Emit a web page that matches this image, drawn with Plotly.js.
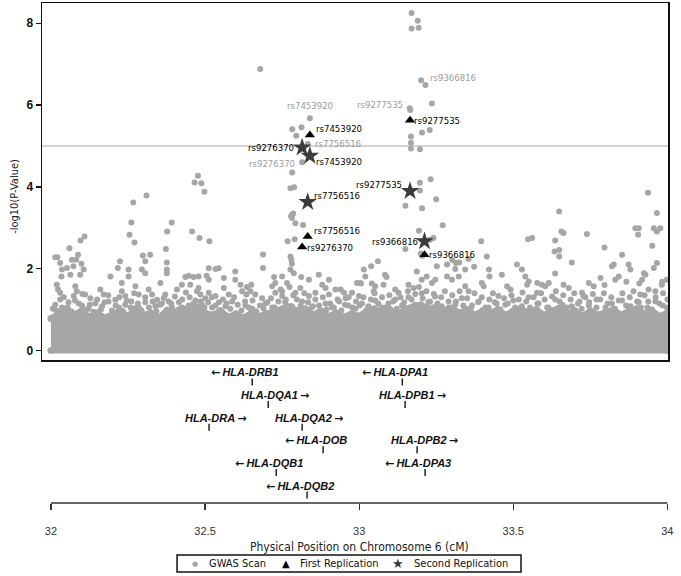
<!DOCTYPE html>
<html><head><meta charset="utf-8">
<script src="https://cdn.plot.ly/plotly-3.0.1.min.js"></script>
<style>html,body{margin:0;padding:0;background:#fff}</style>
</head><body><div id="chart" style="width:681px;height:576px"></div>
<script>
// ---------- DATA ----------
const scanPos = [
32.679,33.170,33.190,33.170,33.193,33.201,33.215,33.236,33.164,33.166,32.840,32.783,32.813,32.796,33.168,33.168,33.168,33.204,33.229,33.197,
32.833,32.815,32.783,32.777,32.789,33.197,33.232,33.197,33.250,33.150,33.204,33.271,33.194,33.150,33.200,33.205,33.241,33.230,33.396,33.414,
33.252,33.285,33.325,33.355,33.344,33.312,33.323,33.039,33.061,33.015,33.020,33.084,33.089,33.079,33.004,33.187,33.203,33.219,33.236,33.247,
33.285,33.301,33.421,33.423,33.463,33.512,33.528,33.539,33.550,33.545,33.548,33.561,33.649,33.656,33.663,33.636,33.634,33.649,33.649,33.636,
33.690,33.739,33.796,33.853,33.820,33.826,33.874,33.880,33.937,33.966,33.896,33.907,33.905,33.956,33.966,33.977,33.951,33.966,33.956,33.929,
33.918,33.982,33.998,33.593,33.604,33.615,33.663,33.680,33.745,33.761,33.831,33.842,33.723,33.728,33.480,33.491,33.398,33.404,33.577,33.452,
33.344,33.355,33.160,33.176,33.117,33.128,33.052,33.047,33.912,33.939,33.961,33.302,33.314,33.373,33.578,33.783,33.796,33.867,33.924,33.909,33.983,
32.477,32.466,32.488,32.498,32.310,32.267,32.261,32.255,32.271,32.392,32.377,32.458,32.482,32.514,32.109,32.096,32.060,32.088,32.082,32.021,
32.014,32.030,32.068,32.073,32.036,32.052,32.099,32.106,32.063,32.095,32.019,32.034,32.224,32.217,32.193,32.298,32.322,32.306,32.295,32.306,
32.373,32.376,32.376,32.376,32.230,32.252,32.252,32.355,32.409,32.436,32.447,32.463,32.479,32.512,32.534,32.544,32.505,32.512,32.561,32.598,
32.598,32.650,32.636,32.688,32.688,32.634,32.647,32.782,32.786,32.779,32.782,32.793,32.818,32.768,32.791,32.777,32.780,32.782,32.777,32.788,
32.812,32.837,32.869,32.880,32.750,32.728,32.745,32.766,32.718,32.902,32.891,32.940,32.951,32.993,32.724,33.006,33.041,
32.023,32.030,32.079,32.084,32.074,32.111,32.128,32.160,32.171,32.209,32.230,32.241,32.261,32.274,32.285,32.317,32.328,32.344,32.371,32.382,
32.425,32.452,32.479,32.485,32.501,32.512,32.534,32.561,32.577,32.615,32.620,32.663,32.685,32.728,32.750,32.793,32.809,32.837,32.858,32.902,
32.923,32.956,32.977,32.999,
32.014,32.036,32.057,32.101,32.122,32.144,32.166,32.187,32.220,32.241,32.285,32.306,32.339,32.360,32.393,32.415,32.447,32.469,32.490,32.523,
32.545,32.566,32.588,32.631,32.653,32.696,32.718,32.760,32.782,32.815,32.850,32.891,32.912,32.935,32.965,32.988,
33.009,33.030,33.052,33.074,33.095,33.117,33.139,33.160,33.182,33.203,33.225,33.246,33.268,33.290,33.312,33.333,33.366,33.388,33.420,33.440,
33.474,33.500,33.528,33.550,33.582,33.610,33.636,33.660,33.690,33.715,33.745,33.770,33.799,33.820,33.853,33.880,33.907,33.935,33.961,33.985,34.000,
32.006,32.018,32.030,32.042,32.054,32.066,32.078,32.090,32.102,32.114,32.126,32.138,32.150,32.162,32.174,32.186,32.198,32.210,32.222,32.234,
32.246,32.258,32.270,32.282,32.294,32.306,32.318,32.330,32.342,32.354,32.366,32.378,32.390,32.402,32.414,32.426,32.438,32.450,32.462,32.474,
32.486,32.498,32.510,32.522,32.534,32.546,32.558,32.570,32.582,32.594,32.606,32.618,32.630,32.642,32.654,32.666,32.678,32.690,32.702,32.714,
32.726,32.738,32.750,32.762,32.774,32.786,32.798,32.810,32.822,32.834,32.846,32.858,32.870,32.882,32.894,32.906,32.918,32.930,32.942,32.954,
32.966,32.978,32.990,33.002,33.014,33.026,33.038,33.050,33.062,33.074,33.086,33.098,33.110,33.122,33.134,33.146,33.158,33.170,33.182,33.194,
33.206,33.218,33.230,33.242,33.254,33.266,33.278,33.290,33.302,33.314,33.326,33.338,33.350,33.362,33.374,33.386,33.398,33.410,33.422,33.434,
33.446,33.458,33.470,33.482,33.494,33.506,33.518,33.530,33.542,33.554,33.566,33.578,33.590,33.602,33.614,33.626,33.638,33.650,33.662,33.674,
33.686,33.698,33.710,33.722,33.734,33.746,33.758,33.770,33.782,33.794,33.806,33.818,33.830,33.842,33.854,33.866,33.878,33.890,33.902,33.914,
33.926,33.938,33.950,33.962,33.974,33.986,33.998
];
const scanLogP = [
6.88,8.25,8.06,7.87,7.89,6.61,6.49,6.04,5.92,5.88,5.68,5.41,5.46,5.25,5.23,5.08,4.94,5.33,5.39,4.92,
5.05,4.60,4.35,3.97,3.99,4.10,4.19,3.91,3.70,3.54,3.48,3.06,2.93,2.48,2.37,2.31,2.75,2.71,2.67,2.30,
2.06,2.10,2.15,2.24,1.98,1.99,1.81,2.06,2.18,1.98,1.81,1.85,1.80,1.61,1.65,1.93,1.73,1.81,1.65,1.73,
1.81,1.73,1.98,1.81,1.85,2.10,1.98,1.81,1.69,1.61,2.72,2.75,3.40,2.91,2.87,2.69,2.42,2.46,2.30,1.88,
2.15,2.85,2.52,2.34,2.06,2.10,2.10,1.98,3.86,3.36,2.99,2.99,2.83,2.99,2.91,2.99,2.56,2.14,2.02,1.85,
1.73,1.61,1.73,1.61,1.57,1.65,1.61,1.53,1.65,1.57,1.73,1.81,1.41,1.33,1.57,1.49,1.65,1.57,1.41,1.33,
1.57,1.45,1.61,1.53,1.49,1.41,1.57,1.45,1.37,1.49,1.45,2.21,2.14,2.05,1.65,1.77,1.60,1.68,1.89,1.64,1.68,
4.27,4.11,4.09,3.88,3.79,3.62,3.13,2.83,2.64,3.13,2.91,2.91,2.75,2.67,2.79,2.69,2.50,2.34,2.22,2.28,
2.28,2.14,2.22,2.06,1.98,2.02,2.12,1.98,1.85,1.85,1.61,1.81,2.18,2.02,1.81,2.32,2.34,2.18,1.98,1.89,
2.48,2.15,1.98,1.89,1.65,1.98,1.81,1.65,1.49,1.80,1.83,1.80,1.81,2.01,1.99,2.01,1.83,1.73,1.77,1.93,
1.73,1.61,1.55,2.35,2.02,1.37,1.45,3.32,3.35,3.28,3.24,3.11,3.07,2.67,2.72,2.30,2.22,2.12,1.98,1.89,
1.80,1.73,1.85,1.61,1.81,1.65,1.49,1.65,1.57,1.73,1.53,1.49,1.41,1.65,1.80,1.64,1.64,
1.49,1.41,1.57,1.45,1.33,1.37,1.28,1.49,1.37,1.24,1.45,1.33,1.20,1.57,1.37,1.49,1.37,1.24,1.37,1.20,
1.61,1.61,1.53,1.37,1.28,1.41,1.33,1.53,1.37,1.61,1.45,1.37,1.28,1.41,1.33,1.41,1.53,1.33,1.41,1.37,
1.49,1.28,1.41,1.33,
1.12,1.05,1.18,1.10,1.02,1.15,1.08,1.20,1.05,1.12,1.05,1.18,1.08,1.15,1.05,1.18,1.10,1.22,1.12,1.05,
1.18,1.08,1.20,1.10,1.02,1.15,1.05,1.18,1.08,1.20,1.08,1.15,1.05,1.20,1.10,1.02,
1.15,1.08,1.22,1.05,1.15,1.25,1.10,1.30,1.12,1.40,1.18,1.32,1.08,1.20,1.12,1.28,1.10,1.20,1.05,1.18,
1.12,1.22,1.08,1.30,1.15,1.05,1.25,1.12,1.08,1.20,1.10,1.25,1.05,1.15,1.22,1.08,1.18,1.05,1.20,1.10,1.25,
1.02,0.98,1.25,1.30,1.05,0.96,1.22,1.15,1.38,1.00,1.12,0.95,1.25,1.00,1.18,1.35,0.98,1.10,1.30,0.96,
1.22,1.05,1.40,1.15,0.98,1.30,1.05,1.20,0.96,1.12,1.28,1.00,1.15,1.32,1.00,1.25,1.42,1.30,1.15,1.45,
1.20,1.05,1.18,1.30,1.10,0.98,1.25,1.15,1.02,1.30,1.12,0.98,1.20,1.05,1.22,0.96,1.10,1.02,1.18,1.28,
1.05,1.20,1.45,1.25,1.55,1.35,1.25,1.10,1.40,1.18,1.05,1.25,1.10,1.30,1.00,1.15,1.05,1.25,0.98,1.12,
1.30,1.05,1.20,1.10,1.30,1.00,1.25,1.40,1.15,1.30,1.05,1.35,1.20,1.02,1.30,1.18,1.45,1.25,1.38,1.55,
1.28,1.45,1.20,1.38,1.15,1.30,1.45,1.05,1.35,1.20,1.45,1.10,1.28,1.02,1.40,1.18,1.30,1.05,1.25,1.40,
1.15,1.00,1.28,1.15,1.35,1.05,1.25,1.42,1.20,1.05,1.30,1.15,1.40,1.25,1.05,1.32,1.45,1.20,1.35,1.05,
1.25,1.40,1.15,1.02,1.30,1.18,1.38,1.05,1.25,1.40,1.15,1.30,1.02,1.22,1.40,1.10,1.30,1.45,1.20,1.05,
1.35,1.20,1.00,1.30,1.15,1.40,1.05
];
// ragged upper edge of the solid mass of low -log10(P) points
const bandPos = [
32.000,32.025,32.050,32.075,32.100,32.125,32.150,32.175,32.200,32.225,32.250,32.275,32.300,32.325,32.350,32.375,32.400,32.425,32.450,32.475,
32.500,32.525,32.550,32.575,32.600,32.625,32.650,32.675,32.700,32.725,32.750,32.775,32.800,32.825,32.850,32.875,32.900,32.925,32.950,32.975,
33.000,33.025,33.050,33.075,33.100,33.125,33.150,33.175,33.200,33.225,33.250,33.275,33.300,33.325,33.350,33.375,33.400,33.425,33.450,33.475,
33.500,33.525,33.550,33.575,33.600,33.625,33.650,33.675,33.700,33.725,33.750,33.775,33.800,33.825,33.850,33.875,33.900,33.925,33.950,33.975,34.000];
const bandTopLogP = [
0.78,0.92,1.02,0.88,0.97,0.82,0.92,0.80,0.87,0.97,0.84,1.02,0.87,0.92,0.80,0.97,0.92,1.04,0.97,1.07,
0.92,0.87,0.97,0.82,0.90,0.80,0.92,0.84,0.90,0.97,1.02,1.07,0.97,1.02,0.87,0.97,0.84,0.92,0.82,0.90,
0.84,0.97,1.02,0.92,1.00,0.87,1.02,1.07,1.12,1.02,1.07,0.97,1.04,0.92,1.00,0.87,0.97,0.92,1.00,0.87,
0.97,1.02,0.92,1.00,0.87,0.97,1.04,0.90,0.97,0.84,0.97,0.87,0.92,1.00,0.87,0.97,1.02,0.90,0.97,0.84,0.92];

const snpNames = ['rs7453920','rs7756516','rs9276370','rs9277535','rs9366816'];
const snpPos = [32.840, 32.833, 32.815, 33.165, 33.212];
const gwasLogP = [5.68, 5.05, 4.60, 5.92, 6.55];
const firstRepLogP = [5.27, 2.79, 2.53, 5.63, 2.34];
const secondRepLogP = [4.76, 3.63, 4.96, 3.90, 2.67];

const geneNames = ['HLA-DRB1','HLA-DPA1','HLA-DQA1','HLA-DPB1','HLA-DRA','HLA-DQA2','HLA-DOB','HLA-DPB2','HLA-DQB1','HLA-DPA3','HLA-DQB2'];
const genePos = [32.653, 33.140, 32.705, 33.149, 32.513, 32.815, 32.883, 33.188, 32.731, 33.214, 32.831];
const geneStrand = [-1, -1, 1, 1, 1, 1, -1, 1, -1, -1, -1];
const geneRow = [1, 1, 2, 2, 3, 3, 4, 4, 5, 5, 6];

const xTickVals = [32, 32.5, 33, 33.5, 34];
const xTickText = ['32', '32.5', '33', '33.5', '34'];
const yTickVals = [0, 2, 4, 6, 8];
const yTickText = ['0', '2', '4', '6', '8'];
const threshold = 5;
const seriesNames = ['GWAS Scan', 'First Replication', 'Second Replication'];

// ---------- STYLE / PLACEMENT ----------
const cond = "'DejaVu Sans Condensed', 'Liberation Sans Narrow', sans-serif";
const sans = "'Liberation Sans', Arial, sans-serif";
const gray = '#a6a6a6';
const starColor = '#3c3c3c';

const firstLbl = {rs7453920:['left',4,6], rs7756516:['left',4,6], rs9276370:['left',3,0], rs9277535:['left',2,0], rs9366816:['left',2,0]};
const secondLbl = {rs7453920:['left',4,-6], rs7756516:['left',4,7], rs9276370:['right',-6,0], rs9277535:['right',-6,6], rs9366816:['right',-5,0]};
const gwasLbl = {rs7453920:['center',0,13], rs7756516:['left',5,0], rs9276370:['right',-5,-1], rs9277535:['right',-5,4], rs9366816:['left',3,5]};

const traces = [];
traces.push({
  x: bandPos.concat([bandPos[bandPos.length-1], bandPos[0]]),
  y: bandTopLogP.concat([0, 0]),
  xaxis: 'x', yaxis: 'y', type: 'scatter', mode: 'lines+markers',
  fill: 'toself', fillcolor: gray,
  line: {color: gray, width: 6}, marker: {color: gray, size: 7},
  showlegend: false, hoverinfo: 'skip'
});
traces.push({
  x: scanPos, y: scanLogP, xaxis: 'x', yaxis: 'y', type: 'scatter', mode: 'markers',
  name: seriesNames[0], showlegend: false,
  marker: {color: gray, size: 6, symbol: 'circle'}
});
traces.push({
  x: snpPos, y: secondRepLogP, xaxis: 'x', yaxis: 'y', type: 'scatter', mode: 'markers',
  name: seriesNames[2], showlegend: false,
  marker: {color: starColor, size: 14, symbol: 'star', line: {width: 0}}
});
traces.push({
  x: snpPos, y: firstRepLogP, xaxis: 'x', yaxis: 'y', type: 'scatter', mode: 'markers',
  name: seriesNames[1], showlegend: false,
  marker: {color: '#000', size: 9, symbol: 'triangle-up', line: {width: 0}}
});
traces.push({
  x: genePos, y: geneRow, xaxis: 'x2', yaxis: 'y2', type: 'scatter', mode: 'markers',
  showlegend: false, hoverinfo: 'skip',
  marker: {symbol: 'line-ns-open', size: 5, color: '#222', line: {color: '#222', width: 1.5}}
});

const annotations = [];
const lblFont = (c) => ({family: cond, size: 9.5, color: c});
snpNames.forEach((s, i) => {
  const a = firstLbl[s];
  annotations.push({x: snpPos[i], y: firstRepLogP[i], xref: 'x', yref: 'y', text: s, showarrow: false,
    xanchor: a[0], xshift: a[1], yshift: a[2], font: lblFont('#000')});
  const b = secondLbl[s];
  annotations.push({x: snpPos[i], y: secondRepLogP[i], xref: 'x', yref: 'y', text: s, showarrow: false,
    xanchor: b[0], xshift: b[1], yshift: b[2], font: lblFont('#000')});
  const c = gwasLbl[s];
  annotations.push({x: snpPos[i], y: gwasLogP[i], xref: 'x', yref: 'y', text: s, showarrow: false,
    xanchor: c[0], xshift: c[1], yshift: c[2], font: lblFont('#9a9a9a')});
});
const arrowL = "<span style='font-family:DejaVu Sans'>\u2190</span>";
const arrowR = "<span style='font-family:DejaVu Sans'>\u2192</span>";
geneNames.forEach((g, i) => {
  const txt = geneStrand[i] < 0 ? arrowL + '\u2009' + g : g + '\u2009' + arrowR;
  annotations.push({x: genePos[i], y: geneRow[i], xref: 'x2', yref: 'y2', text: '<b><i>' + txt + '</i></b>',
    showarrow: false, xanchor: 'center', yanchor: 'middle', xshift: geneStrand[i] < 0 ? -7 : 7, yshift: 9,
    font: {family: sans, size: 11, color: '#111'}});
});
annotations.push({text: '-log10(P-Value)', xref: 'paper', yref: 'paper', x: -0.045, y: 0.614, textangle: -90,
  showarrow: false, xanchor: 'center', yanchor: 'middle', font: {family: cond, size: 11, color: '#222'}});
annotations.push({text: 'Physical Position on Chromosome 6 (cM)', xref: 'x2', yref: 'paper', x: 33, y: -0.088,
  showarrow: false, xanchor: 'center', yanchor: 'middle', font: {family: cond, size: 12, color: '#222'}});

// custom legend (boxed, one row) under the axis title
const legY = -0.121;
const legSym = [
  {t: '\u25CF', c: gray, s: 7, x: 0.2444},
  {t: '\u25B2', c: '#000', s: 10, x: 0.3898},
  {t: '\u2605', c: starColor, s: 13, x: 0.5687}
];
const legTextX = [0.2636, 0.4089, 0.5911];
legSym.forEach((m, i) => {
  annotations.push({text: m.t, xref: 'paper', yref: 'paper', x: m.x, y: legY, showarrow: false,
    xanchor: 'center', yanchor: 'middle', font: {family: 'DejaVu Sans', size: m.s, color: m.c}});
  annotations.push({text: seriesNames[i], xref: 'paper', yref: 'paper', x: legTextX[i], y: legY, showarrow: false,
    xanchor: 'left', yanchor: 'middle', font: {family: cond, size: 11, color: '#111'}});
});

const layout = {
  width: 681, height: 576,
  margin: {l: 42, r: 13, t: 3, b: 73, pad: 0},
  paper_bgcolor: '#fff', plot_bgcolor: '#fff',
  showlegend: false,
  xaxis: {domain: [0, 1], range: [31.971, 34.002], anchor: 'y', showline: true, mirror: true,
    linecolor: '#111', linewidth: 1.5, showgrid: false, zeroline: false, ticks: '', showticklabels: false},
  yaxis: {domain: [0.286, 1], range: [-0.232, 8.496], anchor: 'x', showline: true, mirror: true,
    linecolor: '#111', linewidth: 1.5, showgrid: false, zeroline: false,
    tickmode: 'array', tickvals: yTickVals, ticktext: yTickText, ticks: 'outside', ticklen: 5, tickwidth: 1.2, tickcolor: '#111',
    tickfont: {family: sans, size: 12, color: '#111', weight: 'bold'}},
  xaxis2: {domain: [0, 1], matches: 'x', anchor: 'y2', showline: false, showgrid: false, zeroline: false,
    tickmode: 'array', tickvals: xTickVals, ticktext: xTickText, ticks: 'outside', ticklen: 6, tickwidth: 1.3,
    tickcolor: '#333', ticklabelstandoff: 12, tickfont: {family: sans, size: 11, color: '#333'}},
  yaxis2: {domain: [0, 0.286], range: [6.354, 0.027], anchor: 'x2', showline: false, showgrid: false,
    zeroline: false, showticklabels: false, ticks: ''},
  shapes: [
    {type: 'line', xref: 'paper', yref: 'y', x0: 0, x1: 1, y0: threshold, y1: threshold,
      line: {color: '#c4c4c4', width: 1.5}, layer: 'below'},
    {type: 'line', xref: 'x2', yref: 'paper', x0: xTickVals[0], x1: xTickVals[xTickVals.length-1], y0: 0, y1: 0,
      line: {color: '#333', width: 1.5}},
    {type: 'rect', xref: 'paper', yref: 'paper', x0: 0.2157, x1: 0.7652, y0: -0.104, y1: -0.138,
      line: {color: '#111', width: 1.5}, fillcolor: 'rgba(0,0,0,0)'}
  ],
  annotations: annotations
};
Plotly.newPlot('chart', traces, layout, {staticPlot: true, displayModeBar: false});
</script></body></html>
